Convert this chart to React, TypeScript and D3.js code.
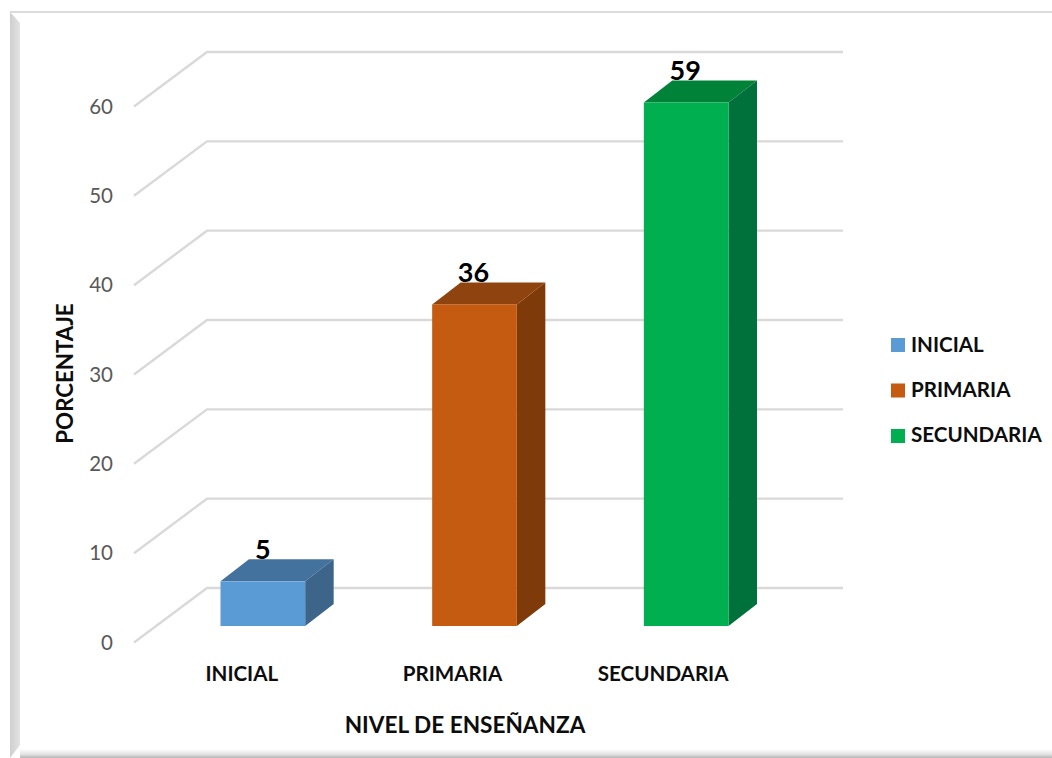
import React from "react";
import * as d3 from "d3";

const categories = ["INICIAL", "PRIMARIA", "SECUNDARIA"];
const values = [5, 36, 58.6];
const frontColors = ["#5B9BD5", "#C55A11", "#00B050"];
const topColors = ["#44729F", "#8F430F", "#008339"];
const sideColors = ["#3C6589", "#7E3A09", "#00713A"];
const yTicks = [0, 10, 20, 30, 40, 50, 60];
const legendLabels = ["INICIAL", "PRIMARIA", "SECUNDARIA"];
const yTitle = "PORCENTAJE";
const xTitle = "NIVEL DE ENSEÑANZA";

const FONT = "Lato, 'Open Sans', sans-serif";

export default function App() {
  const y = d3.scaleLinear().domain([0, 60]).range([642.5, 106.5]);
  const barBase = 626;
  const yBar = d3.scaleLinear().domain([0, 60]).range([barBase, barBase - 536]);
  const x = d3.scaleBand<string>().domain(categories).range([157, 792]).paddingInner(0.6).paddingOuter(0.3);
  const depthX = 28.5;
  const depthY = -22;
  const wallDX = 73;
  const wallDY = -54.5;
  const xAxisLeft = 134;
  const xAxisRight = 843;
  const barX = (c: string) => x(c) as number;
  const fmt = d3.format(".0f");

  return (
    <svg
      width={1052}
      height={758}
      style={{ position: "absolute", left: 0, top: 0, display: "block", background: "#fff" }}
    >
      <defs>
        <linearGradient id="bottomBevel" x1="0" y1="0" x2="0" y2="1">
          <stop offset="0" stopColor="#ffffff" />
          <stop offset="0.6" stopColor="#e2e2e2" />
          <stop offset="1" stopColor="#b5b5b5" />
        </linearGradient>
        <linearGradient id="leftBevel" x1="0" y1="0" x2="1" y2="0">
          <stop offset="0" stopColor="#cfcfcf" />
          <stop offset="1" stopColor="#e3e3e3" />
        </linearGradient>
      </defs>

      <polygon points="10,12 20,23 20,745 10,758" fill="url(#leftBevel)" />
      <rect x={10} y={11} width={1042} height={2} fill="#dcdcdc" />
      <rect x={20} y={749} width={1032} height={9} fill="url(#bottomBevel)" />

      {yTicks.map((t) => (
        <polyline
          key={t}
          points={`${xAxisLeft},${y(t)} ${xAxisLeft + wallDX},${y(t) + wallDY} ${xAxisRight},${y(t) + wallDY}`}
          fill="none"
          stroke="#D9D9D9"
          strokeWidth={2.4}
        />
      ))}

      {yTicks.map((t) => (
        <text key={t} x={113} y={y(t)} dy="0.35em" textAnchor="end" fontFamily={FONT} fontSize={20.5} fill="#595959">
          {t}
        </text>
      ))}

      {categories.map((c, i) => {
        const x0 = barX(c);
        const x1 = x0 + x.bandwidth();
        const top = yBar(values[i]);
        return (
          <g key={c}>
            <polygon
              points={`${x0},${top} ${x0 + depthX},${top + depthY} ${x1 + depthX},${top + depthY} ${x1},${top}`}
              fill={topColors[i]}
            />
            <polygon
              points={`${x1},${top} ${x1 + depthX},${top + depthY} ${x1 + depthX},${barBase + depthY} ${x1},${barBase}`}
              fill={sideColors[i]}
            />
            <rect x={x0} y={top} width={x.bandwidth()} height={barBase - top} fill={frontColors[i]} />
          </g>
        );
      })}

      {categories.map((c, i) => (
        <text
          key={c}
          x={barX(c) + x.bandwidth() / 2 + (i === 0 ? 0 : -1)}
          y={yBar(values[i]) - 29.5}
          textAnchor="middle"
          dominantBaseline="middle"
          fontFamily={FONT}
          fontWeight={700}
          fontSize={27}
          fill="#000"
        >
          {fmt(values[i])}
        </text>
      ))}

      {categories.map((c) => (
        <text
          key={c}
          x={barX(c) + x.bandwidth() / 2 + (c === "INICIAL" ? -21 : c === "PRIMARIA" ? -22 : -23)}
          y={674}
          dy="0.35em"
          textAnchor="middle"
          fontFamily={FONT}
          fontWeight={700}
          fontSize={20.6}
          fill="#0D0D0D"
        >
          {c}
        </text>
      ))}

      <text x={465} y={725} dy="0.35em" textAnchor="middle" fontFamily={FONT} fontWeight={700} fontSize={22.6} fill="#0D0D0D">
        {xTitle}
      </text>
      <text
        transform="translate(65,373.5) rotate(-90)"
        dy="0.35em"
        textAnchor="middle"
        fontFamily={FONT}
        fontWeight={700}
        fontSize={22.3}
        fill="#0D0D0D"
      >
        {yTitle}
      </text>

      {legendLabels.map((l, i) => (
        <g key={l}>
          <rect x={891} y={338 + i * 45.5} width={14} height={14} fill={frontColors[i]} />
          <text x={911} y={345 + i * 45} dy="0.35em" fontFamily={FONT} fontWeight={700} fontSize={20.6} fill="#0D0D0D">
            {l}
          </text>
        </g>
      ))}
    </svg>
  );
}
